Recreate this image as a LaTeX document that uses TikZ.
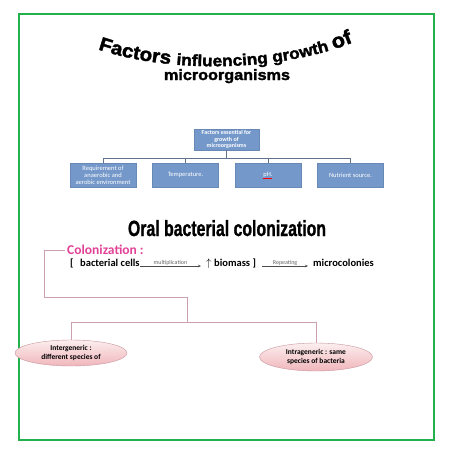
\documentclass[tikz,border=0pt]{standalone}
\usepackage{fontspec}
\setmainfont{Carlito}
\newfontfamily\blackfont[FakeBold=2,FakeStretch=1.08]{Liberation Sans}
\newfontfamily\narrowfont[FakeStretch=0.72,FakeBold=1]{Liberation Sans}
\usetikzlibrary{shapes.geometric,arrows.meta,decorations.text}

\definecolor{framegreen}{RGB}{34,177,76}
\definecolor{chartblue}{RGB}{116,152,202}
\definecolor{chartline}{RGB}{95,115,140}
\definecolor{colpink}{RGB}{226,66,150}
\definecolor{linepink}{RGB}{205,160,175}
\definecolor{ovaltop}{RGB}{252,238,238}
\definecolor{ovalbottom}{RGB}{240,182,187}
\definecolor{ovaledge}{RGB}{200,150,160}

\tikzset{
  factorbox/.style={fill=chartblue, draw=chartblue!90!black, line width=0.3pt, text=white,
    minimum width=66pt, minimum height=24pt, align=center, inner sep=1pt,
    font=\fontsize{6.5}{7}\selectfont},
  chartwire/.style={draw=chartline, line width=0.8pt},
  pinkwire/.style={draw=linepink, line width=0.6pt},
  oval/.style={ellipse, draw=ovaledge, top color=ovaltop, bottom color=ovalbottom,
    minimum width=112pt, minimum height=27pt, inner sep=0pt, align=center,
    font=\bfseries\fontsize{7.5}{9}\selectfont},
  coltext/.style={anchor=base west, inner sep=0pt, font=\bfseries\fontsize{10.5}{12}\selectfont},
  steplabel/.style={above=0.6pt, inner sep=0pt, text=black!60, font=\fontsize{6}{6}\selectfont},
  steparrow/.style={draw=black!70, line width=0.5pt, -{Stealth[length=3pt,width=2.5pt]}}
}

\begin{document}
\begin{tikzpicture}[x=1pt,y=-1pt]
  \useasboundingbox (0,0) rectangle (453,453);
  \fill[white] (0,0) rectangle (453,453);
  % frame
  \draw[framegreen, line width=2pt] (19,14) rectangle (434,440);

  % curved title
  \path[decorate, decoration={text along path, text align=center,
      text={|\blackfont\bfseries\fontsize{19}{19}\selectfont|Factors |\blackfont\bfseries\fontsize{16}{16}\selectfont|influencing growth |\blackfont\bfseries\fontsize{20}{20}\selectfont|of}}]
    (97,49) .. controls (170,74) and (280,72) .. (354,42);
  \node[font=\blackfont\bfseries\fontsize{15}{15}\selectfont, anchor=base, inner sep=0pt] (subtitle) at (227,80) {microorganisms};

  % chart of factors
  \node[factorbox, minimum width=65pt, minimum height=21pt, font=\bfseries\fontsize{6}{6.5}\selectfont] (essential) at (226.5,139.5) {Factors essential for\\growth of\\microorganisms};
  \coordinate (bus) at (226.5,158);
  \node[factorbox] (anaerobic) at (103,175) {Requirement of\\anaerobic and\\aerobic environment};
  \node[factorbox] (temperature) at (185.5,175) {Temperature.};
  \node[factorbox] (ph) at (268,175) {pH.};
  \node[factorbox] (nutrient) at (350.5,175) {Nutrient source.};
  \draw[chartwire] (essential.south) -- (bus);
  \foreach \kid in {anaerobic, temperature, ph, nutrient}
    \draw[chartwire] (bus) -| (\kid.north);
  \draw[red, line width=0.4pt] (ph.center) ++(-5,3.5) -- ++(9,0);

  % colonization
  \node[font=\narrowfont\bfseries\fontsize{22}{22}\selectfont, anchor=base, inner sep=0pt] (oral) at (227,236) {Oral bacterial colonization};
  \node[coltext, anchor=west, inner xsep=2pt, text=colpink, font=\bfseries\fontsize{13.5}{15}\selectfont] (colhead) at (65,250) {Colonization :};
  \node[coltext] (openbr) at (70,266) {[};
  \node[coltext] (cells) at (80,266) {bacterial cells};
  \node[coltext] (rise) at (206,266) {$\uparrow$};
  \node[coltext] (biomass) at (214,266) {biomass ]};
  \node[coltext] (micro) at (313,266) {microcolonies};
  \draw[steparrow] (cells.base east) -- ([xshift=-5pt]rise.base west) node[midway, steplabel] {multiplication};
  \draw[steparrow] ([xshift=6pt]biomass.base east) -- ([xshift=-5pt]micro.base west) node[midway, steplabel] {Repeating};

  \node[oval, minimum height=26pt] (inter) at (71,353) {Intergeneric :\\different species of};
  \node[oval, minimum width=113pt, minimum height=28pt] (intra) at (316,357) {Intrageneric : same\\species of bacteria};

  \coordinate (elbow) at (44,297);
  \coordinate (split) at (187,322);
  \draw[pinkwire] (colhead.west) -| (elbow) -| (split);
  \draw[pinkwire] (split) -| (inter.north);
  \draw[pinkwire] (split) -| (intra.north);
\end{tikzpicture}
\end{document}
